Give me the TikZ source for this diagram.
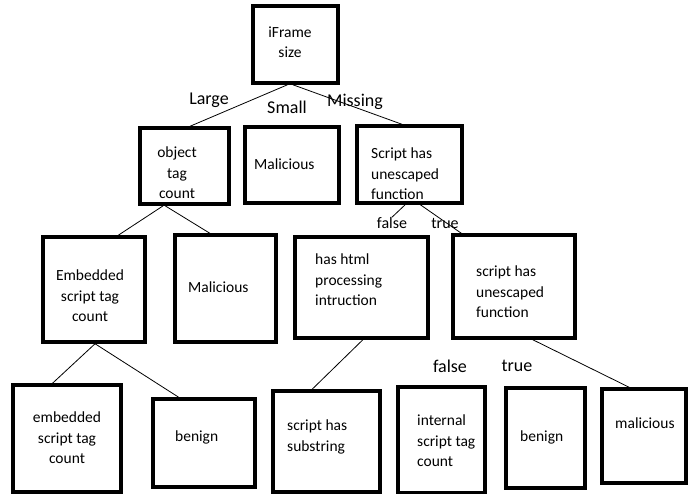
\documentclass[tikz,border=0pt]{standalone}
\usepackage{fontspec}
\setmainfont{Carlito}
\usetikzlibrary{calc}
\begin{document}
\begin{tikzpicture}[x=1pt,y=-1pt,
  dbox/.style={draw, line width=3.5pt, inner sep=0pt},
  txt/.style={font=\fontsize{15.5}{20.5}\selectfont, inner sep=0pt},
  lbl/.style={font=\fontsize{18}{20}\selectfont, inner sep=0pt},
  slbl/.style={font=\fontsize{16}{18}\selectfont, inner sep=0pt},
  conn/.style={line width=0.8pt}]
\useasboundingbox[fill=white] (0,0) rectangle (692,493);
% boxes
\node[dbox, minimum width=85pt, minimum height=77pt] (root) at (295.5,44.5) {};
\node[dbox, minimum width=89pt, minimum height=76pt] (obj) at (184.5,166) {};
\node[dbox, minimum width=94pt, minimum height=76pt] (mal1) at (292,165) {};
\node[dbox, minimum width=105pt, minimum height=77pt] (scr1) at (409.5,164.5) {};
\node[dbox, minimum width=102pt, minimum height=105pt] (emb) at (94,289.5) {};
\node[dbox, minimum width=101pt, minimum height=107pt] (mal2) at (225.5,288.5) {};
\node[dbox, minimum width=133pt, minimum height=101pt] (html) at (361.5,287.5) {};
\node[dbox, minimum width=122pt, minimum height=103pt] (scr2) at (514,286.5) {};
\node[dbox, minimum width=108pt, minimum height=107pt] (emb3) at (67,438.5) {};
\node[dbox, minimum width=102pt, minimum height=88pt] (ben1) at (204,443) {};
\node[dbox, minimum width=107pt, minimum height=101pt] (sub) at (326.5,441.5) {};
\node[dbox, minimum width=87pt, minimum height=106pt] (int) at (441.5,440) {};
\node[dbox, minimum width=79pt, minimum height=100pt] (ben2) at (545.5,438) {};
\node[dbox, minimum width=84pt, minimum height=94pt] (mal3) at (644,436) {};
% texts
\node[txt, align=center] (trootx) at (290,42) {iFrame\\size};
\node[txt, align=center] (tobj) at (177,173) {object\\tag\\count};
\node[txt, anchor=west] (tmal1) at (254,164) {Malicious};
\node[txt, anchor=west, align=left] (tscr1) at (371,174) {Script has\\unescaped\\function};
\node[txt, align=center] (temb) at (90,296) {Embedded\\script tag\\count};
\node[txt, anchor=west] (tmal2) at (188,287) {Malicious};
\node[txt, anchor=west, align=left] (thtml) at (315,280) {has html\\processing\\intruction};
\node[txt, anchor=west, align=left] (tscr2) at (476,292) {script has\\unescaped\\function};
\node[txt, align=center] (temb3) at (67,438) {embedded\\script tag\\count};
\node[txt, anchor=west] (tben1) at (175,437) {benign};
\node[txt, anchor=west, align=left] (tsub) at (287,437) {script has\\substring};
\node[txt, anchor=west, align=left] (tint) at (417,441) {internal\\script tag\\count};
\node[txt, anchor=west] (tben2) at (520,437) {benign};
\node[txt, anchor=west] (tmal3) at (615,423) {malicious};
% labels
\node[lbl] (large) at (209,100) {Large};
\node[lbl] (small) at (287,107) {Small};
\node[lbl] (missing) at (355,102) {Missing};
\node[slbl] (f1) at (392,223) {false};
\node[slbl] (t1) at (445,223) {true};
\node[lbl] (f2) at (450,366) {false};
\node[lbl] (t2) at (517,366) {true};
% connectors
\draw[conn] ($(root.south west)!0.41!(root.south east)$) -- ($(obj.north west)!0.56!(obj.north east)$);
\draw[conn] ($(root.south west)!0.47!(root.south east)$) -- ($(scr1.north west)!0.43!(scr1.north east)$);
\draw[conn] ($(obj.south west)!0.27!(obj.south east)$) -- ($(emb.north west)!0.73!(emb.north east)$);
\draw[conn] ($(obj.south west)!0.29!(obj.south east)$) -- ($(mal2.north west)!0.35!(mal2.north east)$);
\draw[conn] ($(scr1.south west)!0.46!(scr1.south east)$) -- (f1.north);
\draw[conn] ($(scr1.south west)!0.6!(scr1.south east)$) -- ($(scr2.north west)!0.08!(scr2.north east)$);
\draw[conn] ($(emb.south west)!0.51!(emb.south east)$) -- ($(emb3.north west)!0.37!(emb3.north east)$);
\draw[conn] ($(emb.south west)!0.51!(emb.south east)$) -- ($(ben1.north west)!0.26!(ben1.north east)$);
\draw[conn] ($(html.south west)!0.51!(html.south east)$) -- ($(sub.north west)!0.37!(sub.north east)$);
\draw[conn] ($(scr2.south west)!0.65!(scr2.south east)$) -- ($(mal3.north west)!0.33!(mal3.north east)$);
\end{tikzpicture}
\end{document}
